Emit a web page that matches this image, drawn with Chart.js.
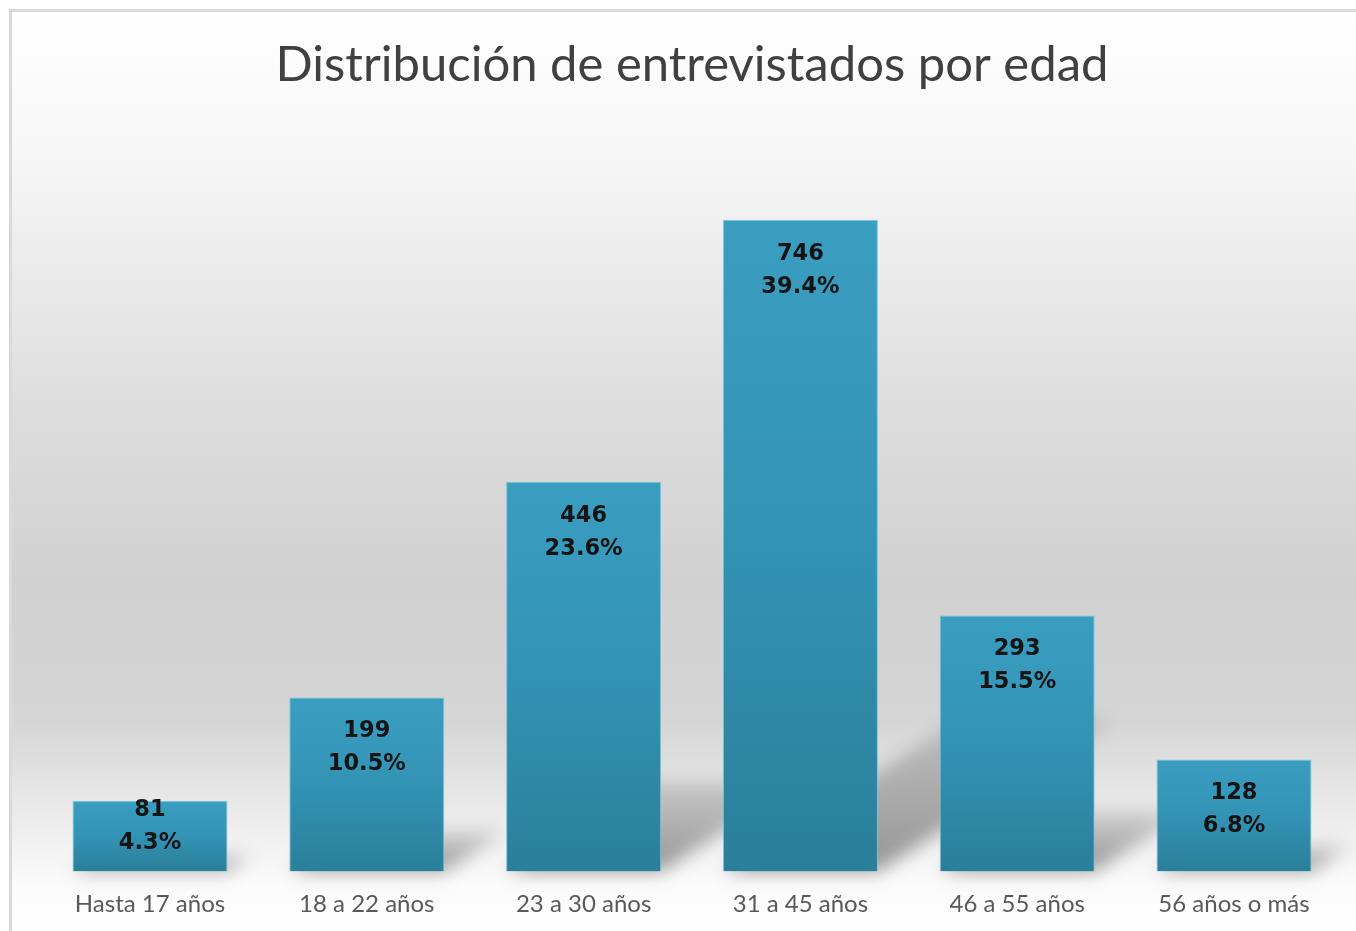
<!DOCTYPE html>
<html>
<head>
<meta charset="utf-8">
<script src="https://cdn.jsdelivr.net/npm/chart.js@4.4.1/dist/chart.umd.min.js"></script>
<style>
  html, body { margin: 0; padding: 0; background: #ffffff; }
  #wrap { width: 1356px; height: 931px; }
</style>
</head>
<body>
<div id="wrap"><canvas id="chart" width="1356" height="931"></canvas></div>
<script>
const categories = ['Hasta 17 años', '18 a 22 años', '23 a 30 años', '31 a 45 años', '46 a 55 años', '56 años o más'];
const counts = [81, 199, 446, 746, 293, 128];
const percents = ['4.3%', '10.5%', '23.6%', '39.4%', '15.5%', '6.8%'];
const chartTitle = 'Distribución de entrevistados por edad';

// background: light frame + vertical grey gradient
const backdrop = {
    id: 'backdrop',
    beforeDraw(chart) {
        const ctx = chart.ctx;
        const w = chart.width, h = chart.height;
        ctx.save();
        const g = ctx.createLinearGradient(0, 10, 0, h);
        g.addColorStop(0.0, '#ffffff');
        g.addColorStop(0.15, '#f7f7f7');
        g.addColorStop(0.42, '#dedede');
        g.addColorStop(0.62, '#d1d1d1');
        g.addColorStop(0.77, '#d5d5d5');
        g.addColorStop(0.86, '#e8e8e8');
        g.addColorStop(0.95, '#fbfbfb');
        g.addColorStop(1.0, '#ffffff');
        ctx.fillStyle = g;
        ctx.fillRect(10, 10, w - 10, h - 10);
        ctx.strokeStyle = '#d9d9d9';
        ctx.lineWidth = 3;
        ctx.beginPath();
        ctx.moveTo(10.5, h);
        ctx.lineTo(10.5, 10.5);
        ctx.lineTo(w, 10.5);
        ctx.stroke();
        ctx.restore();
    }
};

// soft perspective shadow behind each bar
const barShadows = {
    id: 'barShadows',
    beforeDatasetsDraw(chart) {
        const ctx = chart.ctx;
        const meta = chart.getDatasetMeta(0);
        ctx.save();
        ctx.filter = 'blur(9px)';
        meta.data.forEach(bar => {
            const h = bar.base - bar.y;
            const xl = bar.x - bar.width / 2;
            const xr = bar.x + bar.width / 2;
            const dx = h * 0.36, dy = h * 0.23;
            const g = ctx.createLinearGradient(0, bar.base, 0, bar.base - dy);
            g.addColorStop(0, 'rgba(0,0,0,0.40)');
            g.addColorStop(1, 'rgba(0,0,0,0.12)');
            ctx.fillStyle = g;
            ctx.beginPath();
            ctx.moveTo(xl, bar.base);
            ctx.lineTo(xr, bar.base);
            ctx.lineTo(xr + dx, bar.base - dy);
            ctx.lineTo(xl + dx, bar.base - dy);
            ctx.closePath();
            ctx.fill();
        });
        ctx.restore();
    }
};

// value + percentage inside the top of each bar
const barLabels = {
    id: 'barLabels',
    afterDatasetsDraw(chart) {
        const ctx = chart.ctx;
        const meta = chart.getDatasetMeta(0);
        ctx.save();
        ctx.font = 'bold 22.5px "DejaVu Sans", sans-serif';
        ctx.fillStyle = '#141414';
        ctx.textAlign = 'center';
        ctx.textBaseline = 'middle';
        meta.data.forEach((bar, i) => {
            const y1 = Math.min(bar.y + 34, bar.base - 61);
            ctx.fillText(String(counts[i]), bar.x, y1);
            ctx.fillText(percents[i], bar.x, y1 + 33);
        });
        ctx.restore();
    }
};

function barFill(context) {
    const chart = context.chart;
    if (!chart.chartArea) return '#3193b3';
    const yScale = chart.scales.y;
    const top = yScale.getPixelForValue(counts[context.dataIndex]);
    const base = yScale.getPixelForValue(0);
    const g = chart.ctx.createLinearGradient(0, top, 0, base);
    g.addColorStop(0, '#3a9ec1');
    g.addColorStop(0.5, '#3393b5');
    g.addColorStop(1, '#2a7f99');
    return g;
}

new Chart(document.getElementById('chart'), {
    type: 'bar',
    data: {
        labels: categories,
        datasets: [{
            data: counts,
            backgroundColor: barFill,
            borderColor: 'rgba(110,195,222,0.9)',
            borderWidth: 1,
            categoryPercentage: 1.0,
            barPercentage: 0.715
        }]
    },
    options: {
        responsive: false,
        animation: false,
        layout: { padding: { left: 41.6, right: 13.6, top: 10, bottom: 13.6 } },
        plugins: {
            legend: { display: false },
            tooltip: { enabled: false },
            title: {
                display: true,
                text: chartTitle,
                color: '#404040',
                font: { family: 'Lato, "Open Sans", sans-serif', size: 49, weight: 'normal' },
                padding: { top: 25.6, bottom: 34.6 }
            }
        },
        scales: {
            x: {
                grid: { display: false, drawTicks: false },
                border: { display: false },
                afterFit(scale) { scale.height = 46; },
                ticks: {
                    color: '#595959',
                    padding: 18,
                    font: { family: 'Lato, "Open Sans", sans-serif', size: 24 }
                }
            },
            y: { display: false, min: 0, max: 850 }
        }
    },
    plugins: [backdrop, barShadows, barLabels]
});
</script>
</body>
</html>
